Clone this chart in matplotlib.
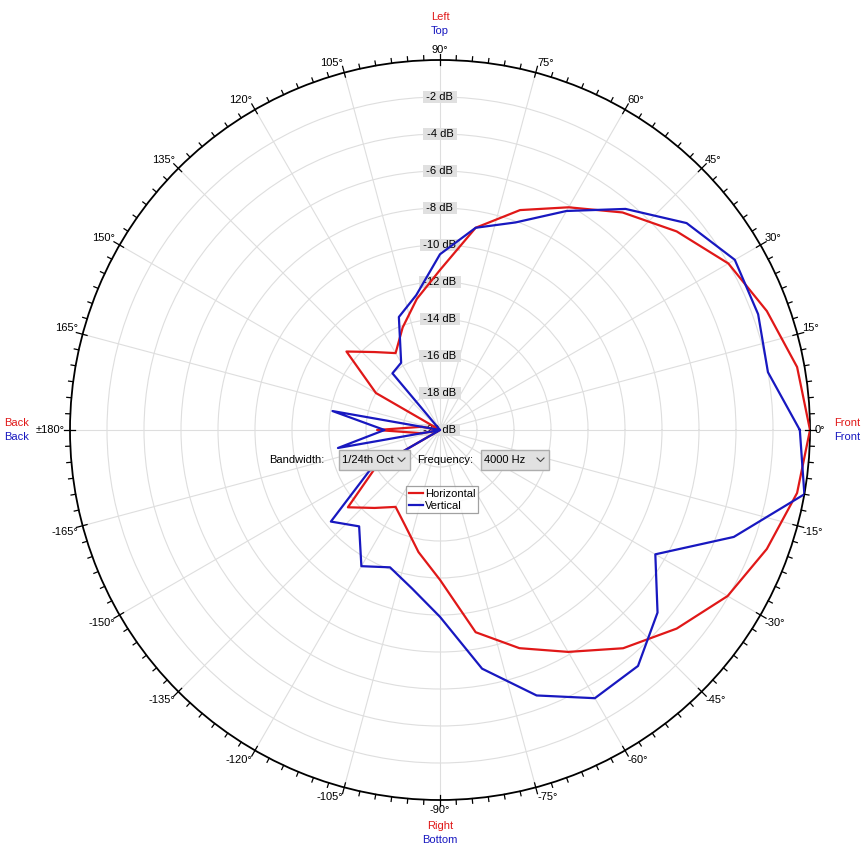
import numpy as np
import matplotlib
matplotlib.use("Agg")
import matplotlib.pyplot as plt
from matplotlib.patches import Rectangle
from matplotlib.lines import Line2D

plt.rcParams['font.family'] = ['Liberation Sans', 'DejaVu Sans']

# ---------------- data ----------------
angles_deg = list(range(0, 360, 10))
horizontal_db = [0.0, -0.4, -1.2, -2.0, -3.3, -4.65, -6.1, -7.35, -8.9,
                 -11.35, -12.8, -14.1, -15.2, -14.5, -13.4, -16.0, -20.5, -19.0,
                 -16.6, -19.0, -20.5, -16.0, -13.5, -14.5, -15.2, -14.5, -13.3,
                 -11.9, -8.9, -7.45, -6.15, -4.6, -3.3, -2.05, -1.2, -0.4]
vertical_db = [-0.55, -2.0, -1.7, -1.6, -2.6, -4.4, -6.33, -8.06, -8.9,
               -10.5, -12.6, -13.5, -15.8, -16.0, -20.5, -20.5, -20.5, -14.1,
               -17.0, -14.4, -20.5, -15.6, -12.3, -13.2, -11.5, -12.1, -11.3,
               -9.9, -6.9, -4.73, -3.26, -3.35, -4.65, -6.56, -3.1, 0.0]
series_names = ['Horizontal', 'Vertical']
series_colors = ['#e01818', '#1818c0']
ring_db = list(range(-18, 0, 2))
db_labels = [f'{v} dB' for v in range(-2, -22, -2)]
angle_tick_deg = list(range(-165, 181, 15))
bandwidth_text = '1/24th Oct'
frequency_text = '4000 Hz'

W, H = 862, 847
fig = plt.figure(figsize=(W / 100, H / 100), dpi=100)
fig.patch.set_facecolor('white')

cx, cy, R = 440, 430, 370
ax = fig.add_axes([(cx - R) / W, (H - cy - R) / H, 2 * R / W, 2 * R / H],
                  projection='polar')
ax.set_theta_zero_location('E')
ax.set_theta_direction(1)
ax.set_rlim(-20, 0)
ax.set_rticks(ring_db)
ax.set_yticklabels([])
ax.set_thetagrids(np.arange(0, 360, 15), labels=[''] * 24)
ax.grid(True, color='#dedede', lw=0.8)
ax.set_axisbelow(True)
ax.tick_params(axis='both', length=0, pad=0)
ax.spines['polar'].set_color('black')
ax.spines['polar'].set_linewidth(1.3)

FS = 8.0
TXT = '#000000'

# tick marks on outer circle
for d in np.arange(0, 360, 2.5):
    if abs(d % 15) < 1e-6:
        r0, r1 = -0.25, 0.35
    else:
        r0, r1 = 0.0, 0.25
    th = np.deg2rad(d)
    ax.plot([th, th], [r0, r1], color='black', lw=0.9, clip_on=False, zorder=5)

# angle labels
for d in angle_tick_deg:
    th = np.deg2rad(d)
    ux, uy = np.cos(th), np.sin(th)
    ha = 'left' if ux > 0.05 else ('right' if ux < -0.05 else 'center')
    va = 'bottom' if uy > 0.05 else ('top' if uy < -0.05 else 'center')
    lab = '\u00b1180\u00b0' if d == 180 else f'{d}\u00b0'
    ax.annotate(lab, xy=(th, 0), xytext=(5 * ux, 5 * uy), textcoords='offset pixels',
                ha=ha, va=va, fontsize=FS, color=TXT, annotation_clip=False)

# dB labels
for v, lab in zip(range(-2, -22, -2), db_labels):
    ax.text(np.pi / 2, v, ' ' + lab + ' ', ha='center', va='center', fontsize=FS,
            color=TXT, zorder=2.5,
            bbox=dict(boxstyle='square,pad=0.08', fc='#e0e0e0', ec='none'))

# curves
th_all = np.deg2rad(np.array(angles_deg + [angles_deg[0]]))
handles = []
for vals, name, col in zip([horizontal_db, vertical_db], series_names, series_colors):
    rv = np.clip(np.array(vals + [vals[0]]), -20, 0)
    h, = ax.plot(th_all, rv, color=col, lw=1.6, zorder=4, label=name)
    handles.append(h)


def fx(x):
    return x / W


def fy(y):
    return 1 - y / H


# side labels
fig.text(fx(440), fy(17), 'Left', color='#e01818', ha='center', va='center', fontsize=FS)
fig.text(fx(440), fy(31), 'Top', color='#1818c0', ha='center', va='center', fontsize=FS)
fig.text(fx(440), fy(826), 'Right', color='#e01818', ha='center', va='center', fontsize=FS)
fig.text(fx(440), fy(840), 'Bottom', color='#1818c0', ha='center', va='center', fontsize=FS)
fig.text(fx(834), fy(423), 'Front', color='#e01818', ha='left', va='center', fontsize=FS)
fig.text(fx(834), fy(437), 'Front', color='#1818c0', ha='left', va='center', fontsize=FS)
fig.text(fx(29), fy(423), 'Back', color='#e01818', ha='right', va='center', fontsize=FS)
fig.text(fx(29), fy(437), 'Back', color='#1818c0', ha='right', va='center', fontsize=FS)

# controls
fig.text(fx(269), fy(460), 'Bandwidth:', ha='left', va='center', fontsize=FS, color=TXT)
fig.text(fx(417), fy(460), 'Frequency:', ha='left', va='center', fontsize=FS, color=TXT)


def dropdown(x0, x1, text):
    fig.patches.append(Rectangle((fx(x0), fy(470)), fx(x1 - x0), (470 - 450) / H,
                                 transform=fig.transFigure, fc='#e1e1e1', ec='#adadad',
                                 lw=1.0, zorder=6))
    fig.text(fx(x0 + 3), fy(460), text, ha='left', va='center', fontsize=FS,
             color=TXT, zorder=7)
    ax_x = x1 - 8.5
    fig.lines.append(Line2D([fx(ax_x - 3.5), fx(ax_x), fx(ax_x + 3.5)],
                            [fy(458), fy(461.5), fy(458)], transform=fig.transFigure,
                            color='#444444', lw=0.8, zorder=7))


dropdown(339, 410, bandwidth_text)
dropdown(481, 549, frequency_text)

leg = fig.legend(handles=handles, loc='upper left',
                 bbox_to_anchor=(fx(406), fy(486.5)), bbox_transform=fig.transFigure,
                 fontsize=FS, frameon=True, fancybox=False, borderpad=0.25,
                 handlelength=1.25, handletextpad=0.2, labelspacing=0.12,
                 borderaxespad=0.0)
leg.get_frame().set_edgecolor('#8a8a8a')
leg.get_frame().set_linewidth(0.9)
for t in leg.get_texts():
    t.set_color(TXT)

fig.savefig('out.png', dpi=100, facecolor='white')
